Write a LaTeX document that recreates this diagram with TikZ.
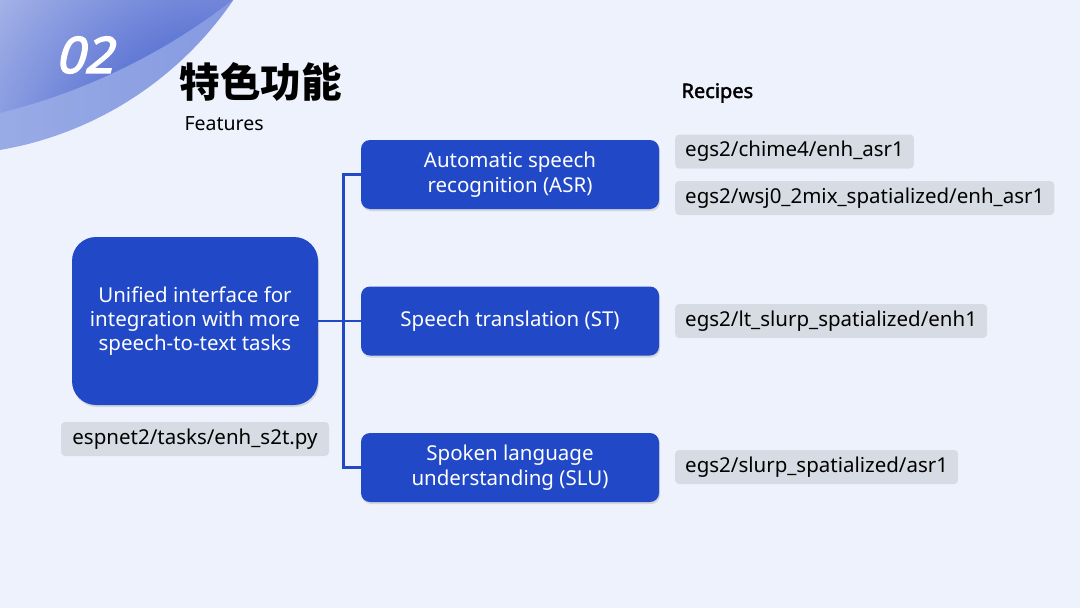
\documentclass[tikz,border=0pt]{standalone}
\usepackage{fontspec}
\setmainfont{Noto Sans}
\newfontfamily\headfont{Noto Sans}[FakeBold=2]
\newfontfamily\numfont{Noto Sans}[FakeBold=3, FakeSlant=0.25]
\newfontfamily\cjk{Noto Sans CJK SC}
\usetikzlibrary{positioning,shadows,calc}
\definecolor{pagebg}{HTML}{EEF2FC}
\definecolor{boxblue}{HTML}{2148C6}
\definecolor{codegray}{HTML}{D7DCE4}
\definecolor{decolight}{HTML}{E6EBF9}
\definecolor{decomid}{HTML}{7F95DF}
\definecolor{decodark}{HTML}{2242C4}
\definecolor{decoband}{HTML}{AEBCEB}

\begin{document}
\begin{tikzpicture}[x=1pt, y=-1pt,
    every node/.style={font=\fontsize{20.5}{24}\selectfont},
    hub/.style={fill=boxblue, text=white, rounded corners=24pt,
      minimum width=246pt, minimum height=168pt, align=center,
      drop shadow={opacity=0.25, shadow xshift=1pt, shadow yshift=-2pt}},
    task/.style={fill=boxblue, text=white, rounded corners=9pt,
      minimum width=298pt, minimum height=69pt, align=center,
      font=\fontsize{20.5}{25.5}\selectfont,
      drop shadow={opacity=0.25, shadow xshift=1pt, shadow yshift=-2pt}},
    recipe/.style={fill=codegray, rounded corners=4pt, anchor=west,
      minimum height=34pt, inner xsep=10pt},
    link/.style={draw=boxblue, line width=2.6pt},
  ]
  % page and corner decoration
  \useasboundingbox (0,0) rectangle (1080,608);
  \fill[pagebg] (0,0) rectangle (1080,608);
  \begin{scope}
    \clip (0,0) rectangle (1080,608);
    \shade[left color=decoband!80, right color=decomid] (-60,-200) circle[radius=355];
    \begin{scope}
      \clip (-150,-493) circle[radius=624];
      \shade[inner color=decodark, outer color=decolight] (220,170) circle[radius=420];
    \end{scope}
  \end{scope}
  \node[text=white, font=\fontsize{50}{54}\selectfont\numfont] (num) at (84,55) {02};
  \node[anchor=west, font=\fontsize{40.5}{46}\selectfont\cjk\bfseries] (title) at (176,82) {特色功能};
  \node[anchor=west, font=\fontsize{19.5}{24}\selectfont] (subtitle) at (181,124) {Features};
  \node[anchor=west, font=\fontsize{20}{24}\selectfont\headfont] (head) at (678,93) {Recipes};

  % main node and tasks
  \node[hub] (main) at (195,321) {Unified interface for\\integration with more\\speech-to-text tasks};
  \node[recipe, anchor=center, minimum width=268pt] (maincode) at (195,439) {espnet2/tasks/enh\_s2t.py};
  \node[task] (asr) at (510,174.5) {Automatic speech\\recognition (ASR)};
  \node[task] (st)  at (510,321)   {Speech translation (ST)};
  \node[task] (slu) at (510,467.5) {Spoken language\\understanding (SLU)};

  % connectors
  \coordinate (jn) at ($(main.east)+(25,0)$);
  \draw[link] (main.east) -- (st.west);
  \draw[link] (asr.west) -| (jn) |- (slu.west);

  % recipes
  \node[recipe] (chime) at (675,151.5) {egs2/chime4/enh\_asr1};
  \node[recipe] (wsj)   at (675,198)   {egs2/wsj0\_2mix\_spatialized/enh\_asr1};
  \node[recipe] (ltsl)  at (675,321)   {egs2/lt\_slurp\_spatialized/enh1};
  \node[recipe] (slurp) at (675,467)   {egs2/slurp\_spatialized/asr1};
\end{tikzpicture}
\end{document}
